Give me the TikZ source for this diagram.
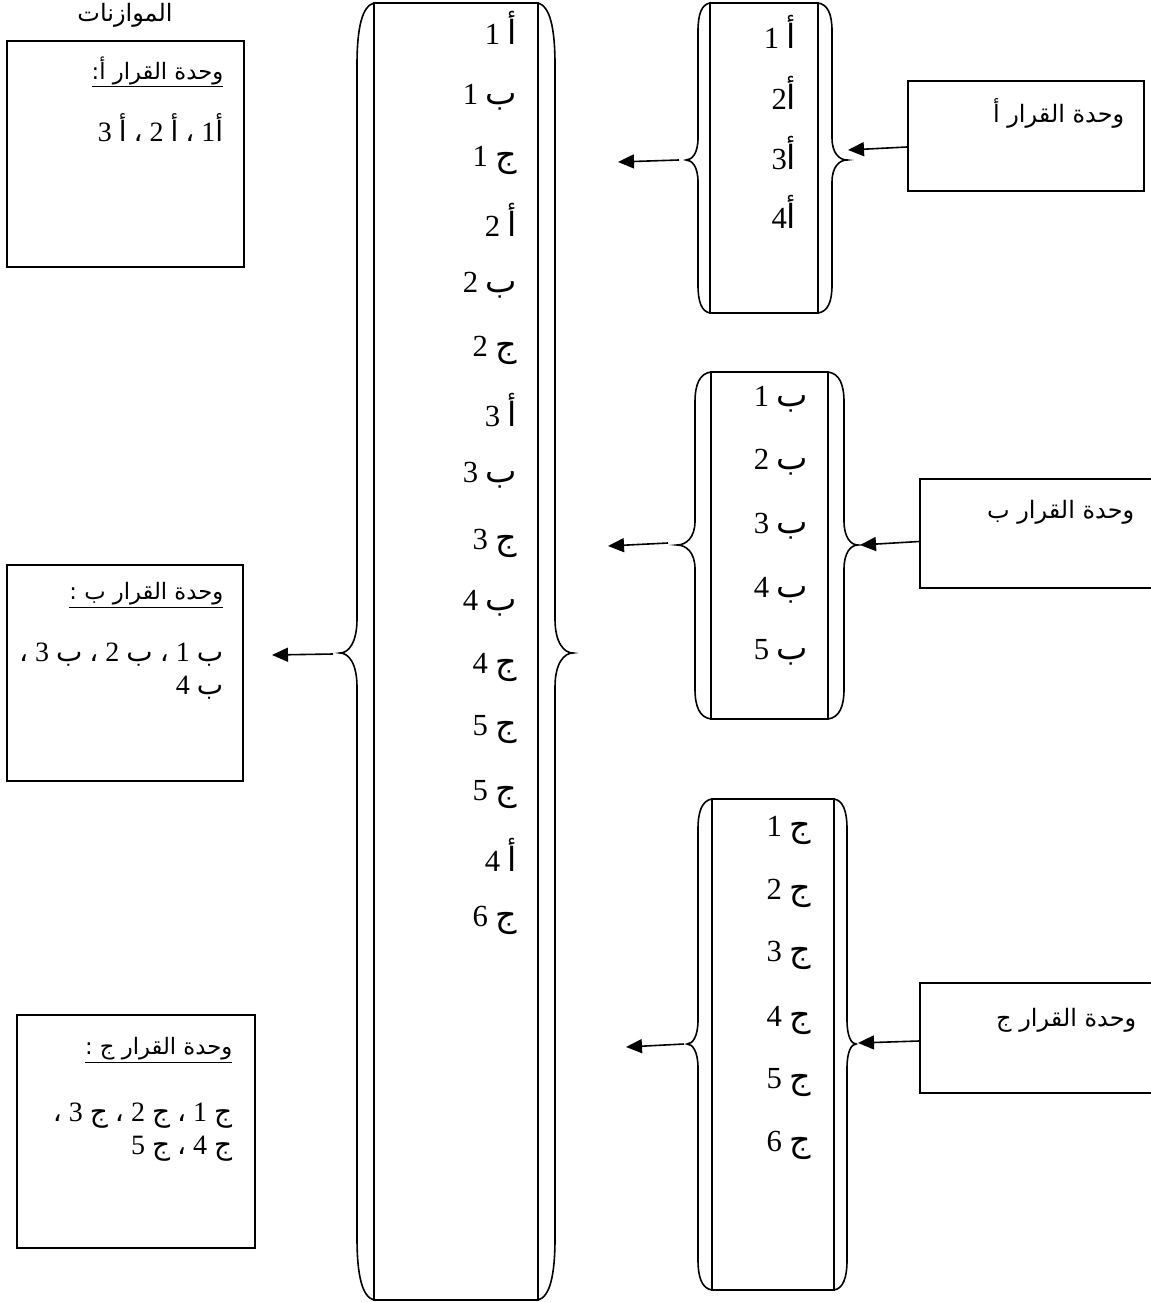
\documentclass[tikz,border=0pt]{standalone}
\usepackage{fontspec}
\setmainfont{Liberation Serif}
\newfontfamily\ar[Script=Arabic]{DejaVu Sans}
\TeXXeTstate=1
\usetikzlibrary{arrows.meta,calc}
\newcommand\bracedraw[8]{%
 \draw[bracestyle] (#1,#4) .. controls ({#2+0.3*(#1-#2)},{#4+0.05*#7}) and (#2,{#4+0.4*#7}) .. (#2,{#4+#7})
 -- (#2,{#5-#8}) .. controls (#2,{#5-0.3*#8}) and ({#3+0.5*(#2-#3)},#5) .. (#3,#5)
 .. controls ({#3+0.5*(#2-#3)},#5) and (#2,{#5+0.3*#8}) .. (#2,{#5+#8})
 -- (#2,{#6-#7}) .. controls (#2,{#6-0.4*#7}) and ({#2+0.3*(#1-#2)},{#6-0.05*#7}) .. (#1,#6);}
\newcommand\itm[2]{\beginR{\ar\fontsize{25}{26}\selectfont #1}#2\endR}
\begin{document}
\begin{tikzpicture}[x=0.75pt,y=-0.75pt,line width=1.2pt,
  bracestyle/.style={line width=1.2pt},
  colbox/.style={draw,line width=1.2pt,inner sep=0pt},
  framebox/.style={draw,line width=1.3pt,inner sep=0pt},
  item/.style={anchor=east,inner sep=0pt,font=\fontsize{23}{26}\selectfont},
  lbl/.style={anchor=east,inner sep=0pt,font=\ar\fontsize{18}{22}\selectfont},
  ulbl/.style={anchor=east,inner sep=0pt,font=\ar\fontsize{17}{21}\selectfont},
  body/.style={anchor=north east,inner sep=0pt,align=right,font=\fontsize{21}{25}\selectfont},
  arr/.style={-{Triangle[length=12pt,width=10.5pt]},line width=1.2pt}]
\useasboundingbox (0,0) rectangle (1150,1302);

% ---------- central column ----------
\node[colbox,minimum width=164*0.75pt,minimum height=1297*0.75pt] (colM) at (456,651.5) {};
\bracedraw{374}{357}{340}{3}{653}{1300}{62}{34}
\bracedraw{538}{555}{573}{3}{653}{1300}{62}{34}
\coordinate (mtipL) at (333,654);
\coordinate (mend) at (272,655);
\draw[arr] (mtipL) -- (mend);
\foreach \y/\l/\d [count=\i] in {28/أ/1,97/ب/1,160/ج/1,220/أ/2,285/ب/2,350/ج/2,410/أ/3,475/ب/3,543/ج/3,603/ب/4,667/ج/4,730/ج/5,795/ج/5,855/أ/4,920/ج/6}
  \node[item] (m\i) at (518,\y) {\itm{\l}{ \d}};

% ---------- column A ----------
\node[colbox,minimum width=108*0.75pt,minimum height=310*0.75pt] (colA) at (764,158) {};
\bracedraw{710}{698}{686}{3}{160}{313}{28}{22}
\bracedraw{818}{832}{847}{3}{160}{313}{28}{22}
\node[item] (a1) at (797,32) {\itm{أ}{ 1}};
\node[item] (a2) at (797,93) {\itm{أ}{2}};
\node[item] (a3) at (797,153) {\itm{أ}{3}};
\node[item] (a4) at (797,212) {\itm{أ}{4}};
\coordinate (aL) at (679,160);
\coordinate (aLe) at (618,162);
\draw[arr] (aL) -- (aLe);

% ---------- column B ----------
\node[colbox,minimum width=117*0.75pt,minimum height=347*0.75pt] (colB) at (769.5,545.5) {};
\bracedraw{711}{695}{677}{372}{545}{719}{30}{24}
\bracedraw{828}{844}{858}{372}{545}{719}{30}{24}
\foreach \y/\d [count=\i] in {399/1,462/2,526/3,590/4,652/5}
  \node[item] (b\i) at (809,\y) {\itm{ب}{ \d}};
\coordinate (bL) at (668,543);
\coordinate (bLe) at (608,546);
\draw[arr] (bL) -- (bLe);

% ---------- column C ----------
\node[colbox,minimum width=122*0.75pt,minimum height=491*0.75pt] (colC) at (773,1044.5) {};
\bracedraw{712}{698}{687}{799}{1044}{1290}{30}{24}
\bracedraw{834}{847}{856}{799}{1044}{1290}{30}{24}
\foreach \y/\d [count=\i] in {830/1,893/2,955/3,1020/4,1083/5,1145/6}
  \node[item] (c\i) at (812,\y) {\itm{ج}{ \d}};
\coordinate (cL) at (684,1044);
\coordinate (cLe) at (626,1047);
\draw[arr] (cL) -- (cLe);

% ---------- right boxes ----------
\node[framebox,minimum width=236*0.75pt,minimum height=110*0.75pt] (boxA) at (1026,136) {};
\node[lbl] (tA) at (1125,113) {\beginR وحدة القرار أ\endR};
\coordinate (aR) at (848,150);
\draw[arr] ($(boxA.west)+(0,11)$) -- (aR);

\node[framebox,minimum width=240*0.75pt,minimum height=109*0.75pt] (boxB) at (1040,533.5) {};
\node[lbl] (tB) at (1135,512) {\beginR وحدة القرار ب\endR};
\coordinate (bR) at (860,545);
\draw[arr] ($(boxB.west)+(0,8)$) -- (bR);

\node[framebox,minimum width=240*0.75pt,minimum height=110*0.75pt] (boxC) at (1040,1038) {};
\node[lbl] (tC) at (1137,1020) {\beginR وحدة القرار ج\endR};
\coordinate (cR) at (858,1043);
\draw[arr] ($(boxC.west)+(0,3)$) -- (cR);

% ---------- left boxes ----------
\node[lbl,anchor=center] (title) at (125,15) {\beginR الموازنات\endR};

\node[framebox,minimum width=237*0.75pt,minimum height=226*0.75pt] (LA) at (125.5,154) {};
\node[ulbl] (LAt) at (224,72) {\underline{\beginR وحدة القرار أ:\endR}};
\node[body,anchor=east] (LAb) at (224,128) {\beginR{\ar أ}1 {\ar ،} {\ar أ} 2 {\ar ،} {\ar أ} 3\endR};

\node[framebox,minimum width=236*0.75pt,minimum height=216*0.75pt] (LB) at (125,673) {};
\node[ulbl] (LBt) at (224,595) {\underline{\beginR وحدة القرار ب :\endR}};
\node[body] (LBb) at (224,642) {\beginR{\ar ب} 1 {\ar ،} {\ar ب} 2 {\ar ،} {\ar ب} 3 {\ar ،}\endR\\ \beginR{\ar ب} 4\endR};

\node[framebox,minimum width=238*0.75pt,minimum height=233*0.75pt] (LC) at (136,1131.5) {};
\node[ulbl] (LCt) at (233,1050) {\underline{\beginR وحدة القرار ج :\endR}};
\node[body] (LCb) at (233,1102) {\beginR{\ar ج} 1 {\ar ،} {\ar ج} 2 {\ar ،} {\ar ج} 3 {\ar ،}\endR\\ \beginR{\ar ج} 4 {\ar ،} {\ar ج} 5\endR};
\end{tikzpicture}
\end{document}
